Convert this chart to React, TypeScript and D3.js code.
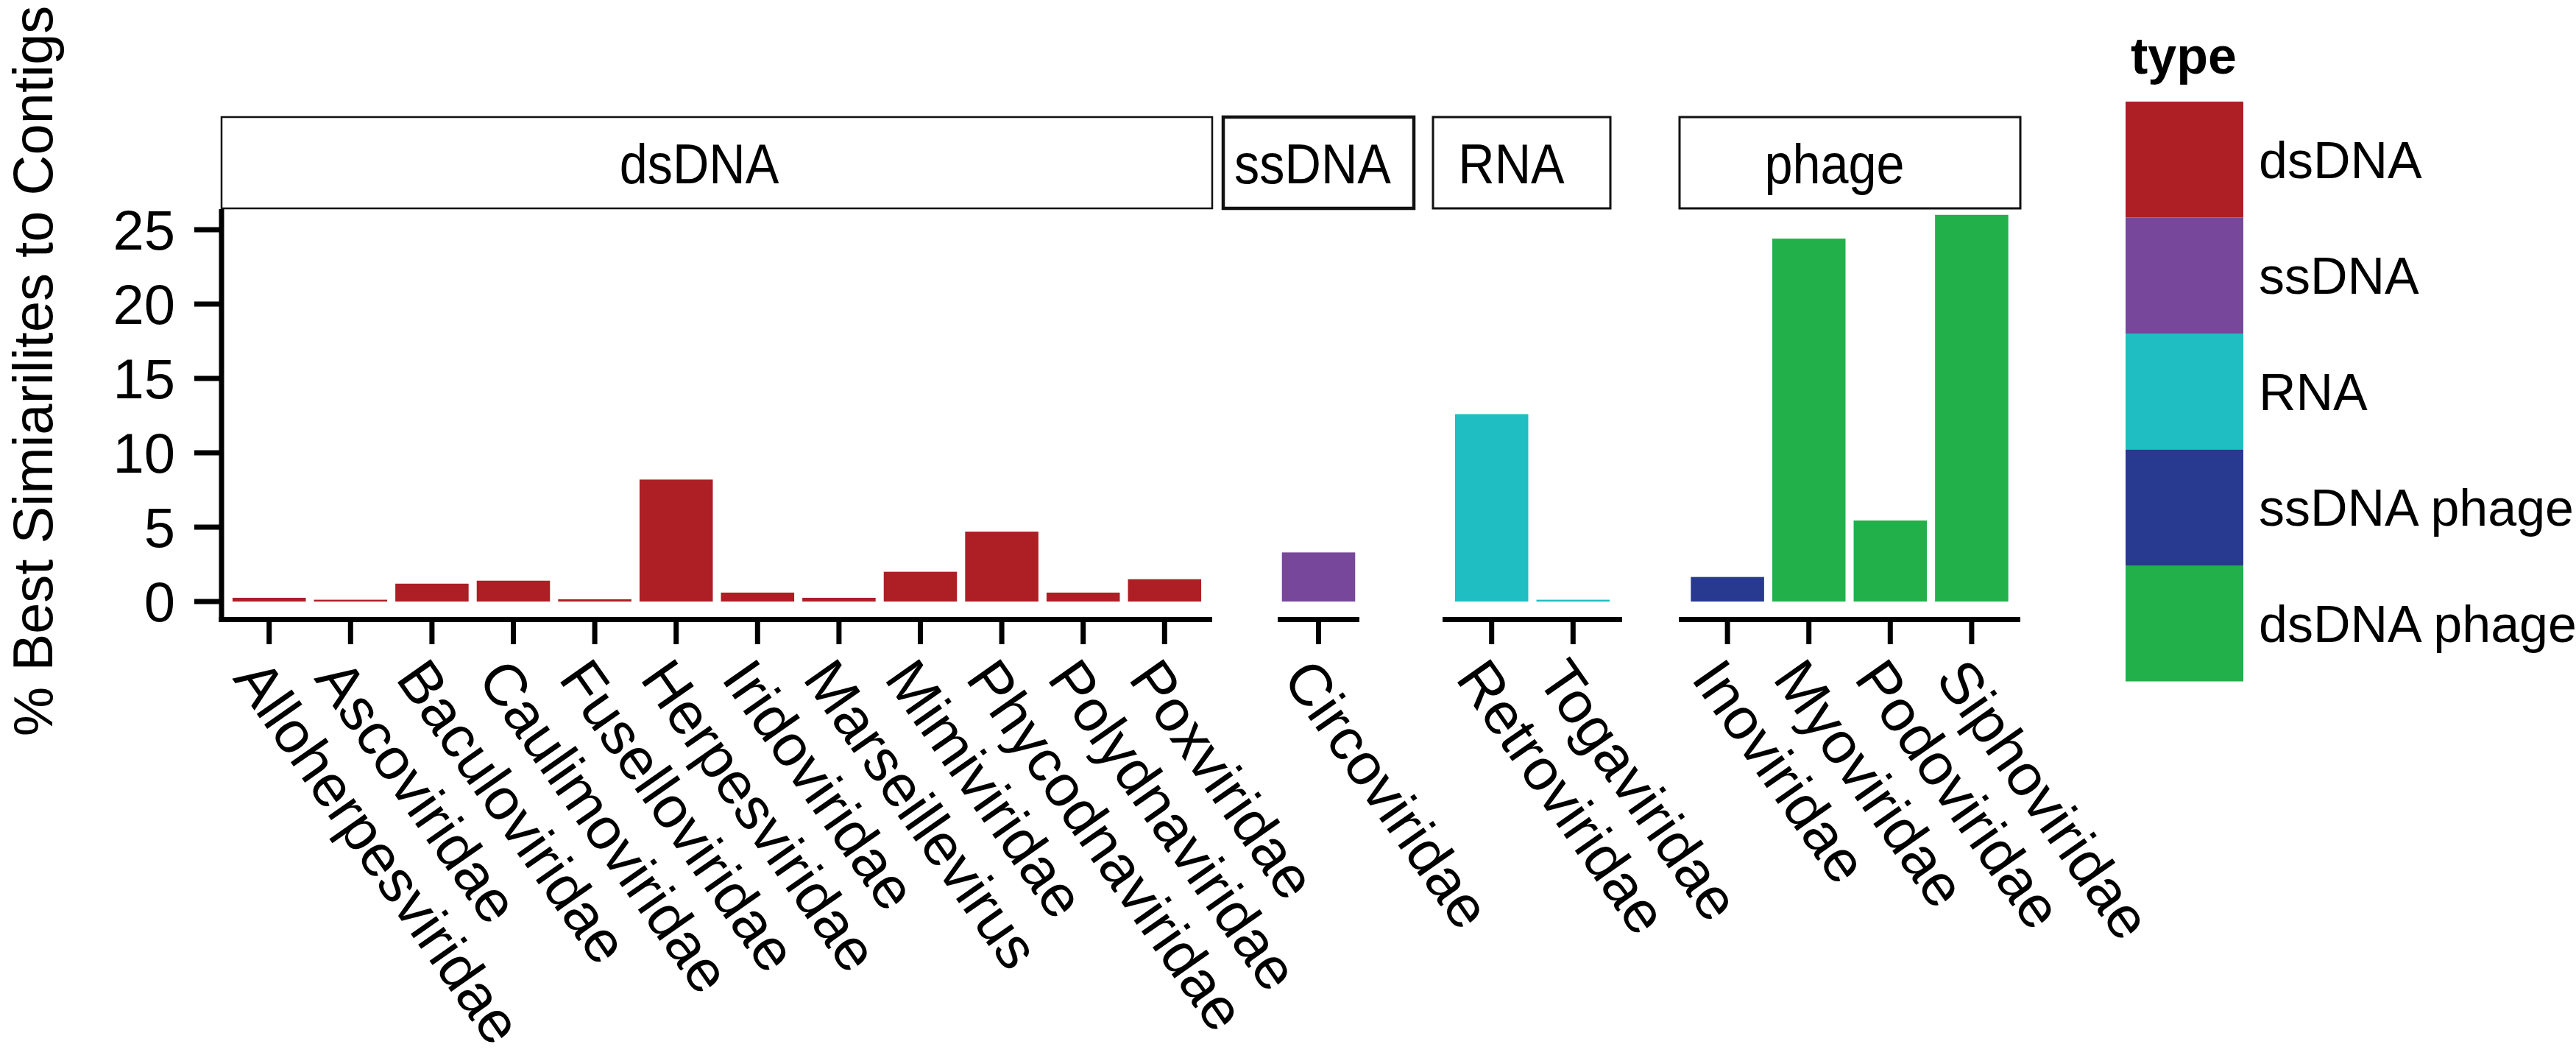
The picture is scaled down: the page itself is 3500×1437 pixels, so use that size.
import * as React from 'react';
import {useEffect, useRef} from 'react';
import * as d3 from 'd3';

const width = 3500;
const height = 1437;
const font = '"Liberation Sans", Arial, Helvetica, sans-serif';

// data
const families = [
  'Alloherpesviridae', 'Ascoviridae', 'Baculoviridae', 'Caulimoviridae',
  'Fuselloviridae', 'Herpesviridae', 'Iridoviridae', 'Marseillevirus',
  'Mimiviridae', 'Phycodnaviridae', 'Polydnaviridae', 'Poxviridae',
  'Circoviridae',
  'Retroviridae', 'Togaviridae',
  'Inoviridae', 'Myoviridae', 'Podoviridae', 'Siphoviridae'
];
const facetOf = [
  'dsDNA', 'dsDNA', 'dsDNA', 'dsDNA', 'dsDNA', 'dsDNA',
  'dsDNA', 'dsDNA', 'dsDNA', 'dsDNA', 'dsDNA', 'dsDNA',
  'ssDNA',
  'RNA', 'RNA',
  'phage', 'phage', 'phage', 'phage'
];
const typeOf = [
  'dsDNA', 'dsDNA', 'dsDNA', 'dsDNA', 'dsDNA', 'dsDNA',
  'dsDNA', 'dsDNA', 'dsDNA', 'dsDNA', 'dsDNA', 'dsDNA',
  'ssDNA',
  'RNA', 'RNA',
  'ssDNA phage', 'dsDNA phage', 'dsDNA phage', 'dsDNA phage'
];
const percentBest = [
  0.25, 0.12, 1.2, 1.4, 0.15, 8.2, 0.6, 0.25, 2.0, 4.7, 0.6, 1.5,
  3.3,
  12.6, 0.12,
  1.65, 24.4, 5.45, 26.0
];

const facets = ['dsDNA', 'ssDNA', 'RNA', 'phage'];
const types = ['dsDNA', 'ssDNA', 'RNA', 'ssDNA phage', 'dsDNA phage'];
const typeColors = ['#ad1f25', '#77479b', '#1fbec2', '#283a8f', '#22b04a'];
const yTicks = [0, 5, 10, 15, 20, 25];

// layout (pixels)
const step = 110.6;
const facetAxis = [[301, 1647], [1736, 1847], [1960, 2204], [2281, 2745]];
const facetStrip = [[301, 1647], [1662, 1921], [1947, 2188], [2282, 2745]];
const stripNudge = [-24, -8, -14, -21];
const stripStroke = [2.5, 4.5, 3, 3];
const stripTop = 159;
const stripBottom = 283;
const axisY = 841.5;

const App = () => {
  const ref = useRef<SVGSVGElement>(null);

  useEffect(() => {
    const svg = d3.select(ref.current);
    svg.selectAll('*').remove();

    const y = d3.scaleLinear().domain([0, 25]).range([817, 312]);
    const color = d3.scaleOrdinal<string, string>().domain(types).range(typeColors);

    const rows = families.map((name, i) => ({
      name, facet: facetOf[i], type: typeOf[i], value: percentBest[i]
    }));

    facets.forEach((facet, fi) => {
      const items = rows.filter(d => d.facet === facet);
      const [r0, r1] = facetAxis[fi];
      const outer = ((r1 - r0) / step - items.length + 0.1) / 2;
      const x = d3.scaleBand()
        .domain(items.map(d => d.name))
        .range([r0, r1])
        .paddingInner(0.1)
        .paddingOuter(outer);

      // strip
      const [s0, s1] = facetStrip[fi];
      svg.append('rect')
        .attr('x', s0).attr('y', stripTop)
        .attr('width', s1 - s0).attr('height', stripBottom - stripTop)
        .attr('fill', 'white')
        .attr('stroke', '#111')
        .attr('stroke-width', stripStroke[fi]);
      svg.append('text')
        .attr('transform', `translate(${(s0 + s1) / 2 + stripNudge[fi]},249) scale(0.9,1)`)
        .attr('text-anchor', 'middle')
        .style('font', `76px ${font}`)
        .text(facet);

      // bars
      svg.append('g')
        .selectAll('rect')
        .data(items)
        .join('rect')
        .attr('x', d => x(d.name)!)
        .attr('width', x.bandwidth())
        .attr('y', d => y(d.value))
        .attr('height', d => y(0) - y(d.value))
        .attr('fill', d => color(d.type));

      // x axis line and ticks
      svg.append('line')
        .attr('x1', fi === 0 ? r0 - 3.5 : r0).attr('x2', r1)
        .attr('y1', axisY).attr('y2', axisY)
        .attr('stroke', '#000').attr('stroke-width', 7);

      const g = svg.append('g').selectAll('g')
        .data(items)
        .join('g')
        .attr('transform', d => `translate(${x(d.name)! + x.bandwidth() / 2},0)`);
      g.append('line')
        .attr('y1', 845).attr('y2', 875)
        .attr('stroke', '#000').attr('stroke-width', 7);
      g.append('text')
        .attr('transform', 'translate(-4,889) rotate(55)')
        .attr('dy', '0.71em')
        .style('font', `80px ${font}`)
        .text(d => d.name);
    });

    // y axis
    svg.append('line')
      .attr('x1', 301).attr('x2', 301)
      .attr('y1', stripBottom + 1).attr('y2', 845)
      .attr('stroke', '#000').attr('stroke-width', 7);
    const yt = svg.append('g').selectAll('g')
      .data(yTicks)
      .join('g')
      .attr('transform', d => `translate(0,${y(d)})`);
    yt.append('line')
      .attr('x1', 264).attr('x2', 298)
      .attr('stroke', '#000').attr('stroke-width', 7);
    yt.append('text')
      .attr('x', 238)
      .attr('dy', '0.36em')
      .attr('text-anchor', 'end')
      .style('font', `76px ${font}`)
      .text(d => d);

    svg.append('text')
      .attr('transform', 'translate(71,504) rotate(-90)')
      .attr('text-anchor', 'middle')
      .style('font', `76px ${font}`)
      .text('% Best Simiarilites to Contigs');

    // legend
    const keyH = 157.5;
    svg.append('text')
      .attr('x', 2895).attr('y', 100)
      .style('font', `bold 70px ${font}`)
      .text('type');
    const lg = svg.append('g').selectAll('g')
      .data(types)
      .join('g')
      .attr('transform', (d, i) => `translate(2888,${138 + i * keyH})`);
    lg.append('rect')
      .attr('width', 160).attr('height', keyH)
      .attr('fill', d => color(d));
    lg.append('text')
      .attr('x', 181).attr('y', keyH / 2)
      .attr('dy', '0.36em')
      .style('font', `70px ${font}`)
      .text(d => d);
  }, []);

  return (
    <svg
      ref={ref}
      width={width}
      height={height}
      style={{position: 'absolute', left: 0, top: 0, background: 'white'}}
    />
  );
};

export default App;
